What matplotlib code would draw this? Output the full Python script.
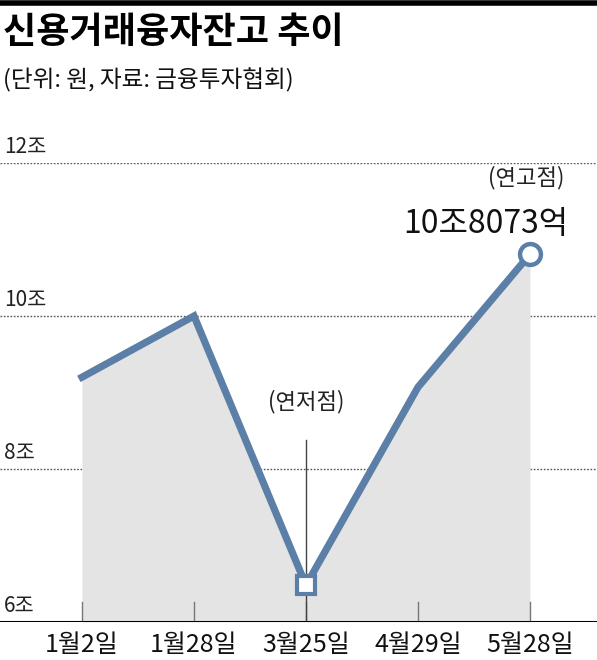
import matplotlib
matplotlib.use("Agg")
import matplotlib.pyplot as plt
from matplotlib.lines import Line2D

plt.rcParams['font.family'] = ['Noto Sans CJK KR', 'DejaVu Sans']

# data (조 원)
dates = ["1월2일", "1월28일", "3월25일", "4월29일", "5월28일"]
balance = [9.2, 10.0, 6.48, 9.07, 10.8073]
y_ticks = [6, 8, 10, 12]
y_tick_labels = ["6조", "8조", "10조", "12조"]

title = "신용거래융자잔고 추이"
subtitle = "(단위: 원, 자료: 금융투자협회)"
high_note = "(연고점)"
high_value = "10조8073억"
low_note = "(연저점)"

line_color = "#5b7fa7"
fill_color = "#e4e4e4"

W, H = 597, 660
fig = plt.figure(figsize=(W / 100, H / 100), dpi=100)

# axes spans full width; baseline (6조) at y=622 px, 12조 at y=163 px
ax = fig.add_axes([0, (H - 622) / H, 1, (622 - 163) / H])
x = list(range(len(dates)))
ax.set_xlim(-82 / 112, (W - 82) / 112)
ax.set_ylim(6, 12)
ax.axis("off")

# dotted grid lines + labels
for v, lab in zip(y_ticks, y_tick_labels):
    if v > 6:
        ax.axhline(v, color="#555555", lw=1, ls=(0, (1.2, 1.2)), zorder=1)
    ax.annotate(lab, (0, v), xycoords=("axes fraction", "data"),
                xytext=(4, 5), textcoords="offset pixels",
                ha="left", va="bottom", fontsize=15, color="#222222")

# area and line
ax.fill_between(x, balance, 6, color=fill_color, lw=0, zorder=2)
ax.plot(x, balance, color=line_color, lw=5.2, solid_joinstyle="miter", zorder=4)

# low / high markers
i_low = balance.index(min(balance))
i_high = balance.index(max(balance))
ax.plot(x[i_low], balance[i_low], marker="s", ms=13, mfc="white",
        mec=line_color, mew=3, zorder=6)
ax.plot(x[i_high], balance[i_high], marker="o", ms=15, mfc="white",
        mec=line_color, mew=3.2, zorder=6)

# tick marks on baseline
for xi in x:
    ax.plot([xi, xi], [6, 6.26], color="#777777", lw=1, zorder=3)

# low point leader line
ax.plot([x[i_low], x[i_low]], [6, 8.38], color="#444444", lw=1, zorder=3)
ax.text(x[i_low], 8.72, low_note, ha="center", va="bottom", fontsize=16,
        color="#222222")

# high point notes
ax.text(x[i_high] + 0.31, 11.66, high_note, ha="right", va="bottom",
        fontsize=16, color="#222222")
ax.text(x[i_high] + 0.34, 11.0, high_value, ha="right", va="bottom",
        fontsize=23, color="#111111")

# baseline
ax.axhline(6, color="black", lw=2.2, zorder=5)

# category labels
for xi, d in zip(x, dates):
    ax.text(xi, 5.87, d, ha="center", va="top", fontsize=18, color="#111111",
            clip_on=False)

# top bar, title, subtitle
fig.add_artist(Line2D([0, 1], [1 - 2.5 / H, 1 - 2.5 / H], transform=fig.transFigure,
                      color="black", lw=4))
fig.text(3 / W, 1 - 14 / H, title, ha="left", va="top", fontsize=26,
         fontweight="bold", color="black")
fig.text(3 / W, 1 - 68 / H, subtitle, ha="left", va="top", fontsize=17,
         color="#111111")

fig.savefig("out.png", dpi=100)
